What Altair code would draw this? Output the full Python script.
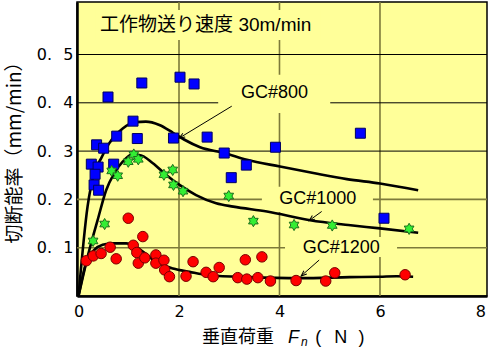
import math
import altair as alt
import pandas as pd

# ---------------- data ----------------
# GC#800 (blue squares)
gc800_x = [0.255, 0.39, 0.33, 0.31, 0.40, 0.36, 0.50, 0.587, 0.70, 0.76, 1.085, 1.17,
           1.26, 1.89, 2.02, 2.30, 2.56, 2.90, 3.04, 3.34, 3.92, 5.61, 6.08]
gc800_y = [0.273, 0.267, 0.252, 0.230, 0.219, 0.313, 0.306, 0.412, 0.273, 0.331, 0.362, 0.326,
           0.441, 0.327, 0.453, 0.439, 0.329, 0.296, 0.245, 0.271, 0.308, 0.337, 0.161]

# GC#1000 (green stars)
gc1000_x = [0.29, 0.52, 0.66, 0.78, 0.99, 1.10, 1.19, 1.70, 1.875, 1.89, 2.08, 2.99,
            3.48, 4.29, 5.05, 6.58]
gc1000_y = [0.114, 0.149, 0.259, 0.249, 0.278, 0.293, 0.283, 0.251, 0.261, 0.230, 0.217, 0.207,
            0.155, 0.147, 0.146, 0.139]

# GC#1200 (red circles)
gc1200_x = [0.155, 0.295, 0.45, 0.63, 0.75, 0.99, 1.09, 1.16, 1.19, 1.28, 1.32, 1.54, 1.54,
            1.70, 1.715, 1.81, 2.14, 2.28, 2.54, 2.68, 2.80, 3.17, 3.32, 3.35, 3.57, 3.65,
            3.82, 4.33, 4.92, 5.10, 6.50]
gc1200_y = [0.073, 0.083, 0.088, 0.101, 0.077, 0.161, 0.105, 0.090, 0.068, 0.123, 0.079, 0.085,
            0.068, 0.074, 0.054, 0.040, 0.041, 0.071, 0.049, 0.040, 0.059, 0.038, 0.075, 0.035,
            0.038, 0.081, 0.031, 0.032, 0.031, 0.048, 0.044]

# fitted curves
c800_x = [0, 0.18, 0.31, 0.45, 0.61, 0.88, 1.14, 1.34, 1.61, 1.88, 2.10, 2.42, 2.90, 3.35,
          4.01, 4.70, 5.34, 6.00, 6.76]
c800_y = [0, 0.185, 0.254, 0.285, 0.316, 0.347, 0.360, 0.361, 0.354, 0.338, 0.324, 0.308,
          0.296, 0.282, 0.268, 0.254, 0.242, 0.233, 0.219]
c1000_x = [0, 0.215, 0.38, 0.55, 0.71, 0.88, 1.045, 1.21, 1.48, 1.74, 2.01, 2.34, 2.74, 3.08,
           3.75, 4.61, 5.37, 6.00, 6.76]
c1000_y = [0, 0.095, 0.157, 0.219, 0.254, 0.278, 0.292, 0.292, 0.275, 0.251, 0.230, 0.209,
           0.192, 0.185, 0.175, 0.157, 0.147, 0.140, 0.131]
c1200_x = [0, 0.15, 0.31, 0.48, 0.68, 0.95, 1.08, 1.28, 1.54, 1.88, 2.21, 2.60, 3.41, 4.41,
           5.40, 6.00, 6.33, 6.66]
c1200_y = [0, 0.068, 0.095, 0.106, 0.109, 0.109, 0.106, 0.092, 0.071, 0.057, 0.050, 0.043,
           0.039, 0.037, 0.039, 0.040, 0.041, 0.040]

# axis ticks / grid
x_ticks = [0, 2, 4, 6, 8]
y_ticks = [0.1, 0.2, 0.3, 0.4, 0.5]
grid_x = [2, 4, 6]
grid_y = [0.1, 0.2, 0.3, 0.4, 0.5]
grid_y_dark = [False, False, True, True, True]

# annotations
label_text = ["GC#800", "GC#1000", "GC#1200"]
label_x = [3.234, 3.996, 4.462]
label_y = [0.420, 0.200, 0.0994]
title_text = ["工作物送り速度 30m/min"]
title_x = [0.43]
title_y = [0.561]
box_x1 = [0.33, 2.78, 3.65, 4.11]
box_x2 = [4.81, 5.01, 5.86, 6.34]
box_y1 = [0.530, 0.379, 0.174, 0.081]
box_y2 = [0.592, 0.458, 0.226, 0.122]
arrow_x1 = [3.05, 4.84, 4.79]
arrow_y1 = [0.393, 0.175, 0.0745]
arrow_x2 = [2.005, 4.59, 4.43]
arrow_y2 = [0.327, 0.156, 0.0414]
arrow_angle = [239, 234, 229]

# ---------------- styling ----------------
YELLOW = "#FFFF99"
OLIVE = "#7d7a3a"
FONT = "Liberation Sans, Arial, Noto Sans CJK JP, sans-serif"
FONT_CJK = "Noto Sans CJK JP, Liberation Sans, sans-serif"
TICKFONT = "DejaVu Sans"

pts = []
for k in range(12):
    r = 1.0 if k % 2 == 0 else 1.0 / math.sqrt(3)
    a = math.radians(-90 + 30 * k)
    pts.append(f"{r * math.cos(a):.3f},{r * math.sin(a):.3f}")
STAR6 = "M" + "L".join(pts) + "Z"
ARROWHEAD = "M-0.55,1.4L0,0L0.55,1.4"

xs = alt.Scale(domain=[-0.03, 8.13], nice=False, zero=False)
ys = alt.Scale(domain=[0, 0.6087], nice=False, zero=False)

x_axis = alt.Axis(values=x_ticks, title=None, grid=False, ticks=False, labelFont=TICKFONT,
                  labelFontSize=16, labelColor="black", labelPadding=7, labelFlush=False,
                  labelOverlap=False, domainColor="black", domainWidth=2.5)
y_axis = alt.Axis(values=y_ticks, title=None, grid=False, ticks=False, labelFont=TICKFONT,
                  labelFontSize=16, labelColor="black", labelPadding=4, labelFlush=False,
                  labelOverlap=False, domainColor="black", domainWidth=2.5,
                  labelExpr="replace(format(datum.value, '.1f'), '.', '.\u2002\u2009')")


def X(f):
    return alt.X(f, scale=xs, axis=x_axis, title=None)


def Y(f):
    return alt.Y(f, scale=ys, axis=y_axis, title=None)


# ---------------- layers ----------------
vgrid = alt.Chart(pd.DataFrame({"gx": grid_x})).mark_rule(color=OLIVE, strokeWidth=1.6).encode(
    x=X("gx:Q"))
hgrid_df = pd.DataFrame({"gy": grid_y, "dark": grid_y_dark})
hgrid = alt.Chart(hgrid_df).mark_rule().encode(
    y=Y("gy:Q"),
    color=alt.condition("datum.dark", alt.value("black"), alt.value(OLIVE)),
    strokeWidth=alt.condition("datum.dark", alt.value(1.0), alt.value(1.6)))

boxes = alt.Chart(pd.DataFrame({"x1": box_x1, "x2": box_x2, "y1": box_y1, "y2": box_y2})).mark_rect(
    fill=YELLOW, strokeWidth=0).encode(
    x=X("x1:Q"), x2="x2:Q", y=Y("y1:Q"), y2="y2:Q")

curves = []
for cx, cy in [(c800_x, c800_y), (c1000_x, c1000_y), (c1200_x, c1200_y)]:
    curves.append(alt.Chart(pd.DataFrame({"x": cx, "y": cy})).mark_line(
        color="black", strokeWidth=2.6, interpolate="monotone").encode(
        x=X("x:Q"), y=Y("y:Q")))

squares = alt.Chart(pd.DataFrame({"x": gc800_x, "y": gc800_y})).mark_point(
    shape="square", size=100, filled=True, fill="#0000ff", stroke="#000060", strokeWidth=1,
    opacity=1).encode(x=X("x:Q"), y=Y("y:Q"))
stars = alt.Chart(pd.DataFrame({"x": gc1000_x, "y": gc1000_y})).mark_point(
    shape=STAR6, size=125, filled=True, fill="#33ee33", stroke="#1d6e1d", strokeWidth=1,
    opacity=1).encode(x=X("x:Q"), y=Y("y:Q"))
circles = alt.Chart(pd.DataFrame({"x": gc1200_x, "y": gc1200_y})).mark_point(
    shape="circle", size=110, filled=True, fill="#ff0000", stroke="#7a0000", strokeWidth=1,
    opacity=1).encode(x=X("x:Q"), y=Y("y:Q"))

arrow_df = pd.DataFrame({"x1": arrow_x1, "y1": arrow_y1, "x2": arrow_x2, "y2": arrow_y2,
                         "ang": arrow_angle})
arrow_lines = alt.Chart(arrow_df).mark_rule(color="black", strokeWidth=1).encode(
    x=X("x1:Q"), y=Y("y1:Q"), x2="x2:Q", y2="y2:Q")
arrow_heads = alt.Chart(arrow_df).mark_point(
    shape=ARROWHEAD, size=64, filled=False, stroke="black", strokeWidth=1, opacity=1).encode(
    x=X("x2:Q"), y=Y("y2:Q"), angle=alt.Angle("ang:Q", scale=None))

labels = alt.Chart(pd.DataFrame({"t": label_text, "x": label_x, "y": label_y})).mark_text(
    align="left", baseline="middle", font=FONT, fontSize=18, color="black").encode(
    x=X("x:Q"), y=Y("y:Q"), text="t:N")
title = alt.Chart(pd.DataFrame({"t": title_text, "x": title_x, "y": title_y})).mark_text(
    align="left", baseline="middle", font=FONT, fontSize=19, color="black").encode(
    x=X("x:Q"), y=Y("y:Q"), text="t:N")


def txt(s, px, py, size=18, font=FONT_CJK, style="normal", align="left", angle=0):
    return alt.Chart(pd.DataFrame({"t": [s]})).mark_text(
        align=align, baseline="middle", font=font, fontSize=size, fontStyle=style,
        color="black", angle=angle).encode(text="t:N", x=alt.value(px), y=alt.value(py))


ytitle = txt("切断能率（mm/min）", -62, 146, size=19, align="center", angle=270)
xt1 = txt("垂直荷重", 125, 336)
xt2 = txt("F", 211, 336, font=FONT, style="italic")
xt3 = txt("n", 224, 340, size=12, font=FONT, style="italic")
xt4 = txt("(", 241.3, 336, font=FONT, align="center")
xt5 = txt("N", 263.8, 336, font=FONT, align="center")
xt6 = txt(")", 284.5, 336, font=FONT, align="center")

chart = alt.layer(
    vgrid, hgrid, boxes, *curves, squares, stars, circles, arrow_lines, arrow_heads, labels,
    title, ytitle, xt1, xt2, xt3, xt4, xt5, xt6
).properties(
    width=410, height=294,
    autosize=alt.AutoSizeParams(type="none"),
    padding={"left": 77, "top": 2, "right": 16, "bottom": 59},
    background="white",
).configure_view(
    fill=YELLOW, stroke="black", strokeWidth=1.5
)

chart.save("out.html", embed_options={"renderer": "svg", "actions": False})
